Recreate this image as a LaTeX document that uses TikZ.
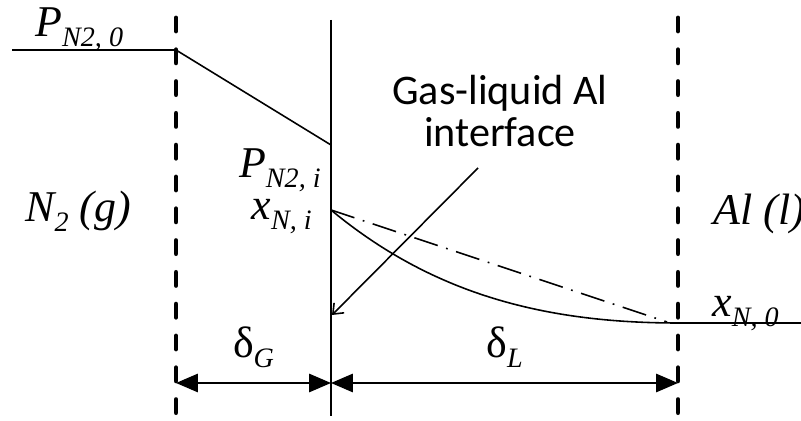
\documentclass[tikz,border=0pt]{standalone}
\usepackage{fontspec}
\setmainfont{Liberation Serif}
\newfontfamily\calfont{Carlito}
\usetikzlibrary{arrows.meta}
\newcommand\sbs[1]{\raisebox{-0.22em}{\fontsize{16}{17}\selectfont #1}}
\begin{document}
\begin{tikzpicture}[x=0.02cm,y=-0.02cm,
		bound/.style={line width=2.8pt, line cap=round, dash pattern=on 7.4pt off 10.7pt},
		lbl/.style={font=\fontsize{25}{27}\selectfont, inner sep=0pt, anchor=base west},
		dim/.style={{Triangle[length=12.5pt,width=10.5pt]}-{Triangle[length=12.5pt,width=10.5pt]}, line width=0.9pt}]
			\useasboundingbox (0,0) rectangle (801,421);
			% film boundaries and interface
			\coordinate (G1) at (176,18);  \coordinate (G2) at (176,421);
			\coordinate (L1) at (678,18);  \coordinate (L2) at (678,421);
			\coordinate (I1) at (331,20);  \coordinate (I2) at (331,416);
			\draw[bound] (G1) -- (G2);
			\draw[bound] (L1) -- (L2);
			\draw[line width=0.9pt] (I1) -- (I2);
			% partial pressure
			\coordinate (P0) at (12,50);  \coordinate (P1) at (176,50);  \coordinate (Pi) at (331,145);
			\draw[line width=0.9pt] (P0) -- (P1) -- (Pi);
			% concentration
			\coordinate (Xi) at (331,210);  \coordinate (X0) at (678,323);  \coordinate (Xe) at (801,323);
			\coordinate (Xd) at (667,322);
			\draw[line width=0.9pt] (Xi) .. controls (430,292) and (540,323) .. (X0) -- (Xe);
			\draw[line width=0.9pt, dash pattern=on 14pt off 5pt on 1pt off 5pt] (Xi) -- (Xd);
			% labels
			\node[lbl] (pn0) at (35,37) {\itshape P\sbs{N2, 0}};
			\node[lbl, anchor=base east] (pni) at (321,178) {\itshape P\sbs{N2, i}};
			\node[lbl, anchor=base east] (xni) at (312,220) {\itshape x\sbs{N, i}};
			\node[lbl] (gas) at (25,222) {\itshape N\sbs{2} (g)};
			\node[lbl] (liq) at (713,225) {\itshape Al (l)};
			\node[lbl] (xn0) at (712,317) {\itshape x\sbs{N, 0}};
			\node[font=\calfont\fontsize{24}{23.5}\selectfont, align=center, inner sep=0pt] (ifc) at (500,111) {Gas-liquid Al\\interface};
			\coordinate (A1) at (478,168);  \coordinate (A2) at (332,315);
			\draw[-{Straight Barb[length=5pt,width=8pt]}, line width=0.9pt] (A1) -- (A2);
			% film thicknesses
			\coordinate (DG) at (176,383);  \coordinate (DI) at (331,383);  \coordinate (DL) at (678,383);
			\draw[dim] (DG) -- node[above=5pt, font=\fontsize{25}{27}\selectfont] (dg) {δ\sbs{\itshape G}} (DI);
			\draw[dim] (DI) -- node[above=5pt, font=\fontsize{25}{27}\selectfont] (dl) {δ\sbs{\itshape L}} (DL);
		\end{tikzpicture}
\end{document}
